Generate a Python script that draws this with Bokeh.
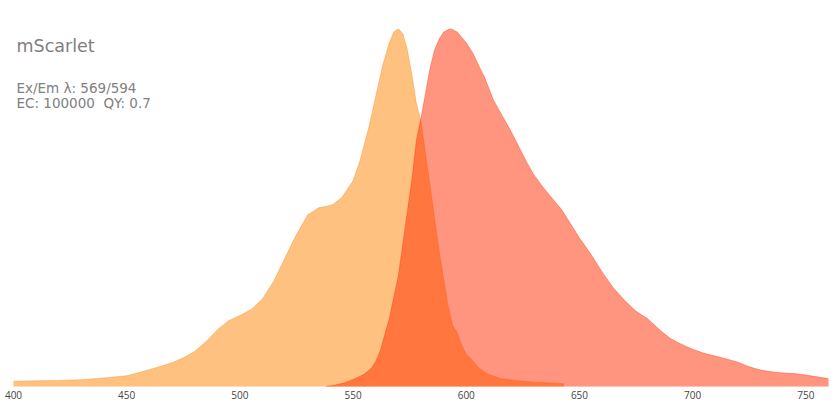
from bokeh.plotting import figure
from bokeh.models import Label, Range1d, FixedTicker
from bokeh.embed import file_html
from bokeh.resources import INLINE

# ---- data ----
ex_wl = [400, 410, 420, 430, 440, 450, 460, 470, 475, 480, 485, 490, 495, 500,
         505, 510, 515, 520, 525, 530, 535, 538, 541, 545, 550, 553, 557, 560,
         563, 566, 568, 570, 572, 574, 576, 578, 580, 582, 584, 586, 588, 590,
         592, 594, 596, 598, 600, 602, 605, 609, 615, 622, 630, 637, 643]
ex_val = [0.015, 0.016, 0.017, 0.019, 0.024, 0.030, 0.047, 0.066, 0.080, 0.098,
          0.125, 0.158, 0.184, 0.198, 0.215, 0.245, 0.295, 0.360, 0.425, 0.480,
          0.500, 0.503, 0.508, 0.528, 0.575, 0.630, 0.725, 0.810, 0.895, 0.960,
          0.990, 1.000, 0.985, 0.940, 0.870, 0.790, 0.740, 0.650, 0.560, 0.470,
          0.380, 0.300, 0.225, 0.170, 0.150, 0.115, 0.090, 0.078, 0.055, 0.036,
          0.022, 0.017, 0.012, 0.010, 0.008]

em_wl = [538, 542, 546, 549, 552, 555, 558, 560, 562, 564, 566, 568, 570, 572,
         574, 576, 578, 580, 582, 584, 586, 588, 590, 593, 596, 598, 600, 603,
         606, 608, 612, 616, 620, 624, 627, 630, 634, 638, 642, 646, 650, 655,
         660, 665, 670, 675, 680, 686, 690, 695, 700, 705, 710, 715, 720, 725,
         730, 735, 740, 745, 750, 755, 760]
em_val = [0.000, 0.004, 0.010, 0.017, 0.025, 0.035, 0.050, 0.070, 0.100, 0.145,
          0.190, 0.250, 0.310, 0.400, 0.490, 0.580, 0.690, 0.750, 0.820, 0.890,
          0.940, 0.970, 0.990, 1.000, 0.990, 0.975, 0.960, 0.930, 0.890, 0.865,
          0.800, 0.755, 0.710, 0.660, 0.623, 0.590, 0.556, 0.525, 0.495, 0.455,
          0.415, 0.370, 0.320, 0.275, 0.240, 0.210, 0.190, 0.155, 0.135, 0.118,
          0.104, 0.093, 0.085, 0.077, 0.068, 0.055, 0.046, 0.041, 0.038, 0.036,
          0.032, 0.027, 0.022]

tick_values = [400, 450, 500, 550, 600, 650, 700, 750]
protein = "mScarlet"
info_lines = ["Ex/Em λ: 569/594", "EC: 100000\u00a0 QY: 0.7"]

EX_COLOR = "#FD8300"
EM_COLOR = "#FF2B00"
TEXT_COLOR = "#808080"

p = figure(width=832, height=412, output_backend="svg", toolbar_location=None,
           x_range=Range1d(400, 760), y_range=Range1d(0, 1.0),
           min_border_left=13, min_border_right=4, min_border_top=28,
           min_border_bottom=26)
p.outline_line_color = None
p.xgrid.visible = False
p.ygrid.visible = False
p.yaxis.visible = False

ax = p.xaxis[0]
ax.ticker = FixedTicker(ticks=tick_values)
ax.axis_line_color = None
ax.major_tick_line_color = None
ax.minor_tick_line_color = None
ax.major_tick_out = 0
ax.major_tick_in = 0
ax.major_label_standoff = 4
ax.major_label_text_font = "Open Sans"
ax.major_label_text_font_size = "10px"
ax.major_label_text_color = "#444444"


def closed(xs, ys):
    return [xs[0]] + list(xs) + [xs[-1]], [0] + list(ys) + [0]


ex_x, ex_y = closed(ex_wl, ex_val)
em_x, em_y = closed(em_wl, em_val)

p.patch(ex_x, ex_y, fill_color=EX_COLOR, fill_alpha=0.5,
        line_color=EX_COLOR, line_alpha=0.35, line_width=1)
p.patch(em_x, em_y, fill_color=EM_COLOR, fill_alpha=0.5,
        line_color=EM_COLOR, line_alpha=0.35, line_width=1)

p.add_layout(Label(x=3, y=341, x_units="screen", y_units="screen",
                   text=protein, text_font="DejaVu Sans", text_font_size="17.5px",
                   text_color=TEXT_COLOR, text_baseline="alphabetic"))
for i, line in enumerate(info_lines):
    p.add_layout(Label(x=3, y=299 - 15 * i, x_units="screen", y_units="screen",
                       text=line, text_font="DejaVu Sans",
                       text_font_size="13.5px", text_color=TEXT_COLOR,
                       text_baseline="alphabetic"))

open("out.html", "w").write(file_html(p, INLINE))
